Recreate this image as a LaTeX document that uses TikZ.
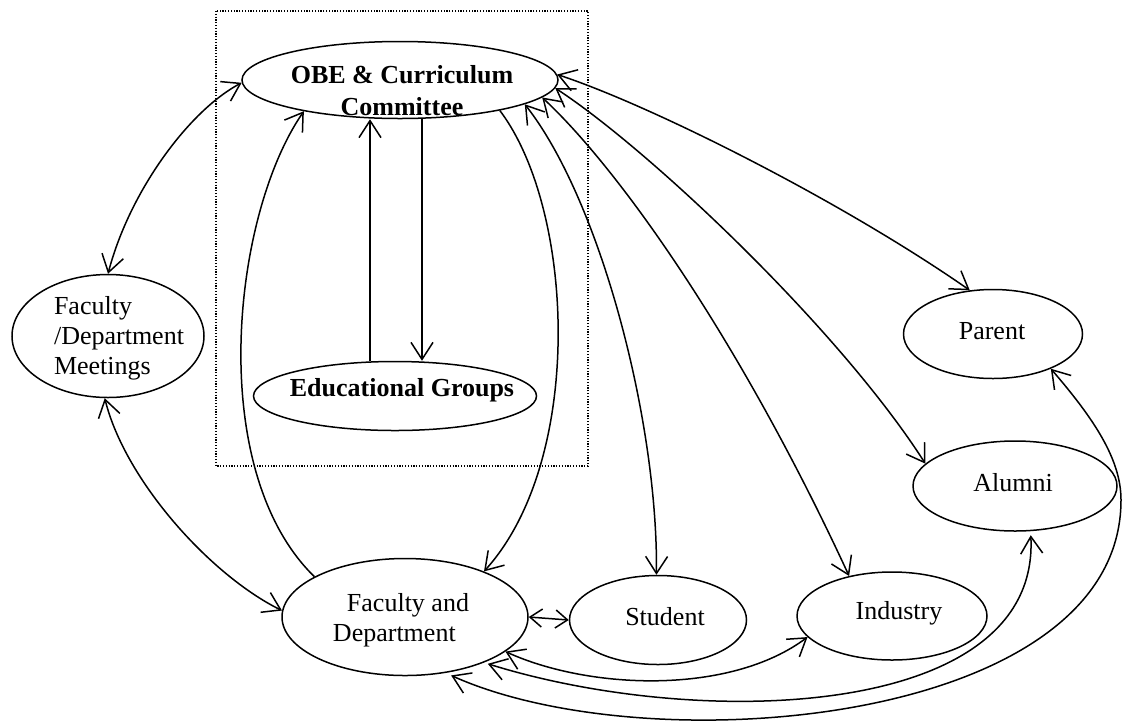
\documentclass[tikz,border=0pt]{standalone}
\usepackage{fontspec}
\setmainfont{Liberation Serif}
\usetikzlibrary{shapes.geometric,arrows.meta}
\begin{document}
\begin{tikzpicture}[x=1pt,y=-1pt,
  ell/.style={draw,ellipse,line width=1.5pt,inner sep=0pt},
  lbl/.style={inner sep=0pt,align=center,font=\fontsize{26}{30}\selectfont},
  blbl/.style={inner sep=0pt,align=center,font=\fontsize{26}{32}\selectfont\bfseries},
  con/.style={line width=1.5pt},
  smallboth/.style={{Straight Barb[length=12pt,width=18pt]}-{Straight Barb[length=12pt,width=18pt]}},
  >={Straight Barb[length=17pt,width=22pt]}]
\useasboundingbox (0,0) rectangle (1123,724);
% dotted frame
\draw[line width=1.3pt,dash pattern=on 1.2pt off 1.6pt] (216,11) rectangle (588,466);
% ellipses
\node[ell,minimum width=316pt,minimum height=77pt] (obe) at (400,80) {};
\node[ell,minimum width=283pt,minimum height=69pt] (edu) at (395,396) {};
\node[ell,minimum width=192pt,minimum height=123pt] (fdm) at (108,336) {};
\node[ell,minimum width=246pt,minimum height=117pt] (fd) at (405,617) {};
\node[ell,minimum width=177pt,minimum height=89pt] (stu) at (658,620) {};
\node[ell,minimum width=190pt,minimum height=88pt] (ind) at (892,616) {};
\node[ell,minimum width=204pt,minimum height=90pt] (alu) at (1015,486) {};
\node[ell,minimum width=179pt,minimum height=89pt] (par) at (993,334) {};
% texts
\node[blbl] (obeT) at (402,91) {OBE \& Curriculum\\Committee};
\node[blbl] (eduT) at (402,390) {Educational Groups};
\node[lbl,align=left] (fdmT) at (119,338) {Faculty\\/Department\\Meetings};
\node[lbl,align=left] (fdT) at (401,620) {\hspace*{14pt}Faculty and\\Department};
\node[lbl] (stuT) at (665,617) {Student};
\node[lbl] (indT) at (899,613) {Industry};
\node[lbl] (aluT) at (1013,483) {Alumni};
\node[lbl] (parT) at (992,331) {Parent};
% connectors
\draw[con,<->] (obe.181) .. controls (190,110) and (130,190) .. (fdm.90);
\draw[con,<->] (fdm.267) .. controls (125,480) and (210,575) .. (fd.177);
\draw[con,->] (fd.156) .. controls (205,470) and (232,215) .. (obe.198);
\draw[con,->] (obe.343) .. controls (575,210) and (585,460) .. (fd.30);
\draw[con,<->] (obe.349) .. controls (600,200) and (658,420) .. (stu.92);
\draw[con,<->] (obe.353) .. controls (620,170) and (740,340) .. (ind.137);
\draw[con,<->] (obe.357) .. controls (650,150) and (840,330) .. (alu.166);
\draw[con,<->] (obe.2) .. controls (650,105) and (840,200) .. (par.118);
\draw[con,smallboth] (fd.0) -- (stu.180);
\draw[con,<->] (fd.341) .. controls (590,690) and (730,695) .. (ind.194);
\draw[con,<->,shorten <=4pt,shorten >=4pt] (fd.330) .. controls (700,730) and (1040,720) .. (alu.289);
\coordinate (cbend) at (1121,500);
\draw[con,<->,shorten <=6pt] (fd.306) .. controls (650,765) and (1121,725) .. (cbend) .. controls (1121,460) and (1095,420) .. (par.329);
\draw[con,->] ([xshift=-25pt]edu.north) -- ([xshift=-25pt]edu.north |- obe.south);
\draw[con,->] ([xshift=27pt]edu.north |- obe.south) -- ([xshift=27pt]edu.north);
\end{tikzpicture}
\end{document}
